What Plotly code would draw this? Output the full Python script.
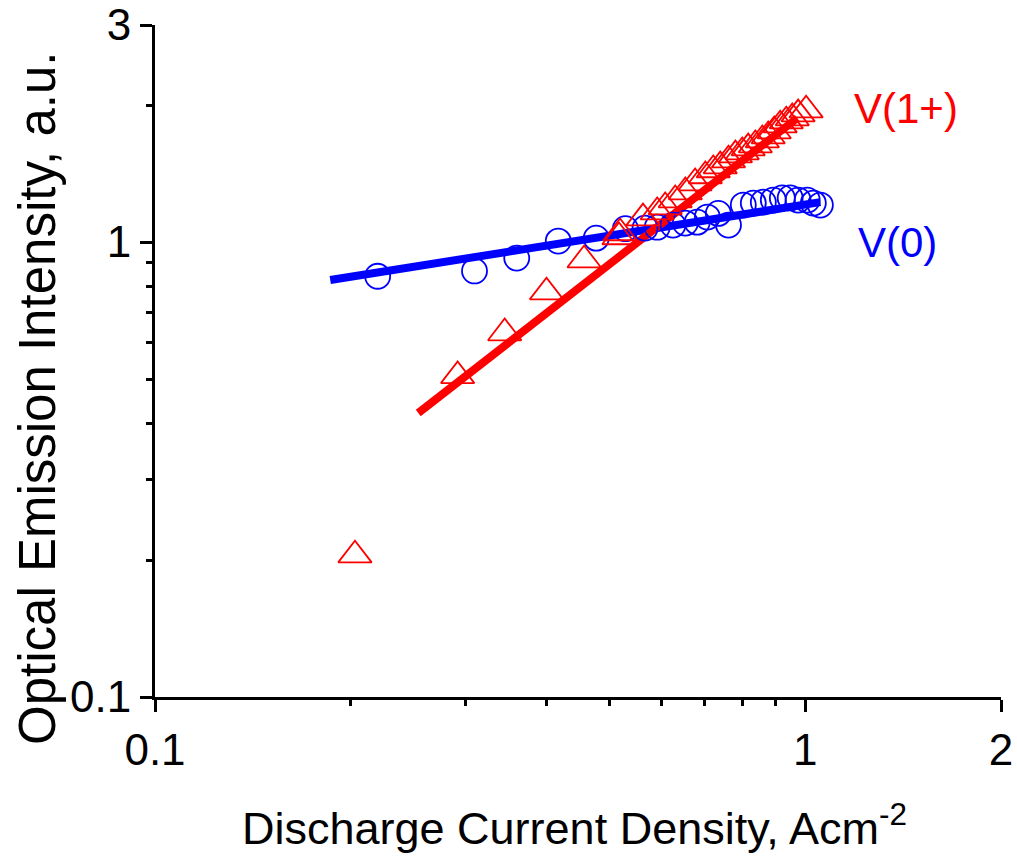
import plotly.graph_objects as go

# V(0) data (blue circles)
v0_x = [0.220, 0.310, 0.360, 0.417, 0.477, 0.529, 0.567, 0.592, 0.626, 0.654, 0.682,
        0.707, 0.735, 0.762, 0.803, 0.832, 0.862, 0.893, 0.922, 0.948, 0.975, 1.007,
        1.029, 1.055]
v0_y = [0.841, 0.864, 0.922, 1.005, 1.020, 1.070, 1.073, 1.078, 1.090, 1.101, 1.106,
        1.135, 1.156, 1.090, 1.206, 1.218, 1.224, 1.237, 1.250, 1.250, 1.237, 1.237,
        1.218, 1.206]

# V(1+) data (red triangles)
v1_x = [0.203, 0.292, 0.345, 0.400, 0.457, 0.517, 0.519, 0.563, 0.592, 0.609, 0.631,
        0.654, 0.677, 0.702, 0.722, 0.740, 0.762, 0.781, 0.800, 0.817, 0.838, 0.859,
        0.877, 0.896, 0.915, 0.935, 0.955, 0.975, 1.003]
v1_y = [0.205, 0.508, 0.631, 0.776, 0.913, 1.026, 1.047, 1.129, 1.164, 1.194, 1.237,
        1.288, 1.348, 1.397, 1.440, 1.469, 1.514, 1.553, 1.577, 1.609, 1.634, 1.676,
        1.710, 1.754, 1.807, 1.844, 1.873, 1.911, 1.950]

# Power-law fit lines (endpoints)
fit0_x = [0.186, 1.055]
fit0_y = [0.825, 1.224]
fit1_x = [0.254, 0.972]
fit1_y = [0.421, 1.873]

x_ticks = [0.1, 1, 2]
x_ticktext = ["0.1", "1", "2"]
y_ticks = [0.1, 1, 3]
y_ticktext = ["0.1", "1", "3"]
x_minor = [0.2, 0.3, 0.4, 0.5, 0.6, 0.7, 0.8, 0.9]
y_minor = [0.2, 0.3, 0.4, 0.5, 0.6, 0.7, 0.8, 0.9, 2]

BLUE = "#0000ff"
RED = "#ff0000"
FONT = "Liberation Sans, Arial, sans-serif"

fig = go.Figure()
fig.add_trace(go.Scatter(x=fit0_x, y=fit0_y, mode="lines",
                         line=dict(color=BLUE, width=8), showlegend=False))
fig.add_trace(go.Scatter(x=fit1_x, y=fit1_y, mode="lines",
                         line=dict(color=RED, width=8), showlegend=False))
fig.add_trace(go.Scatter(x=v0_x, y=v0_y, mode="markers",
                         marker=dict(symbol="circle-open", size=25, color=BLUE,
                                     line=dict(width=1.8, color=BLUE)),
                         showlegend=False))
fig.add_trace(go.Scatter(x=v1_x, y=v1_y, mode="markers",
                         marker=dict(symbol="triangle-up-open", size=29, color=RED,
                                     line=dict(width=1.8, color=RED)),
                         showlegend=False))

axis_common = dict(
    type="log", showgrid=False, zeroline=False, showline=True, automargin=False,
    linecolor="black", linewidth=3, ticks="outside", ticklen=12, tickwidth=3,
    tickcolor="black", tickfont=dict(family=FONT, size=44, color="black"),
    mirror=False,
)
fig.update_xaxes(**axis_common, range=[-1, 0.30103], tickvals=x_ticks, ticktext=x_ticktext,
                 minor=dict(tickvals=x_minor, ticks="outside", ticklen=6, tickwidth=3,
                            tickcolor="black", showgrid=False))
fig.update_yaxes(**axis_common, range=[-1, 0.47712], tickvals=y_ticks, ticktext=y_ticktext,
                 minor=dict(tickvals=y_minor, ticks="outside", ticklen=6, tickwidth=3,
                            tickcolor="black", showgrid=False))

fig.add_annotation(text="Discharge Current Density, Acm<sup>-2</sup>",
                   xref="paper", yref="paper", x=(574 - 155) / 846, y=-(825 - 697) / 672,
                   xanchor="center", yanchor="middle", showarrow=False,
                   font=dict(family=FONT, size=45, color="black"))
fig.add_annotation(text="Optical Emission Intensity, a.u.",
                   xref="paper", yref="paper", x=-(155 - 37) / 846, y=(697 - 398) / 672,
                   xanchor="center", yanchor="middle", textangle=-90, showarrow=False,
                   font=dict(family=FONT, size=51, color="black"))
fig.add_annotation(text="V(1+)", xref="paper", yref="paper",
                   x=(906 - 155) / 846, y=(697 - 108) / 672,
                   xanchor="center", yanchor="middle", showarrow=False,
                   font=dict(family=FONT, size=42, color=RED))
fig.add_annotation(text="V(0)", xref="paper", yref="paper",
                   x=(897 - 155) / 846, y=(697 - 243) / 672,
                   xanchor="center", yanchor="middle", showarrow=False,
                   font=dict(family=FONT, size=42, color=BLUE))

fig.update_layout(
    width=1017, height=857,
    margin=dict(l=155, r=16, t=25, b=160),
    plot_bgcolor="white", paper_bgcolor="white",
    showlegend=False,
)
fig.write_html("out.html")
